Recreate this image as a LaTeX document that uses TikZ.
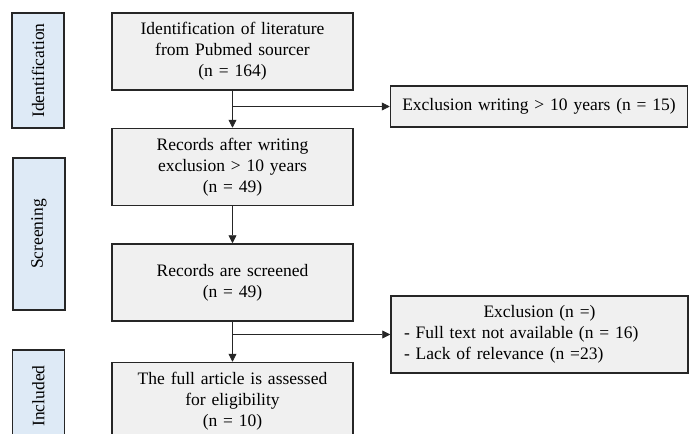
\documentclass[tikz,border=0pt]{standalone}
\usepackage{fontspec}
\setmainfont{Liberation Serif}
\definecolor{boxColor}{HTML}{F0F0F0}
\definecolor{stageColor}{HTML}{DEEAF6}
\definecolor{lineColor}{HTML}{262626}
\usetikzlibrary{arrows.meta, positioning}
\tikzset{
    node distance = 37pt and 37pt,
    flowNode/.style = {rectangle, draw=lineColor, line width=1.5pt, fill=boxColor, align=center, inner sep=0pt, minimum width=241pt, minimum height=77pt, text width=225pt, font=\fontsize{17.5}{21}\selectfont},
    exclusionNode/.style = {flowNode, minimum width=297pt, text width=271pt},
    stageNode/.style = {rectangle, draw=lineColor, line width=1.5pt, fill=stageColor, rotate=90, inner sep=0pt, minimum height=52pt, font=\fontsize{17.5}{21}\selectfont},
    flowPath/.style = {-{Triangle[length=8pt, width=8pt]}, draw=lineColor, line width=0.8pt}
}
\begin{document}
\begin{tikzpicture}[x=1pt, y=-1pt]
            \useasboundingbox (0,0) rectangle (689,434);
            \clip (0,0) rectangle (689,434);
            % stages
            \node(identification)[stageNode, minimum width=115pt] at (38,70.5){Identification};
            \node(screening)[stageNode, minimum width=152pt] at (39,234){Screening};
            \node(included)[stageNode, minimum width=92pt] at (38.5,396){Included};
            % main flow
            \node(literature)[flowNode] at (232.5,51.5){Identification of literature\\from Pubmed sourcer\\(n = 164)};
            \node(records)[flowNode, below=of literature]{Records after writing\\exclusion > 10 years\\(n = 49)};
            \node(screened)[flowNode, below=of records]{Records are screened\\(n = 49)};
            \node(fullArticle)[flowNode, below=40pt of screened]{The full article is assessed\\for eligibility\\(n = 10)};
            % exclusions
            \node(writingExclusion)[exclusionNode, minimum height=41pt, text width=290pt] at (539,106.5){Exclusion writing > 10 years (n = 15)};
            \node(relevanceExclusion)[exclusionNode, align=left] at (539.5,334.5){\makebox[\linewidth]{Exclusion (n =)}\\- Full text not available (n = 16)\\- Lack of relevance (n =23)};
            \path[flowPath] (literature) to (records);
            \path[flowPath] (records) to (screened);
            \path[flowPath] (screened) to (fullArticle);
            \path[flowPath] (literature.south |- writingExclusion.west) to (writingExclusion.west);
            \path[flowPath] (screened.south |- relevanceExclusion.west) to (relevanceExclusion.west);
        \end{tikzpicture}
\end{document}
